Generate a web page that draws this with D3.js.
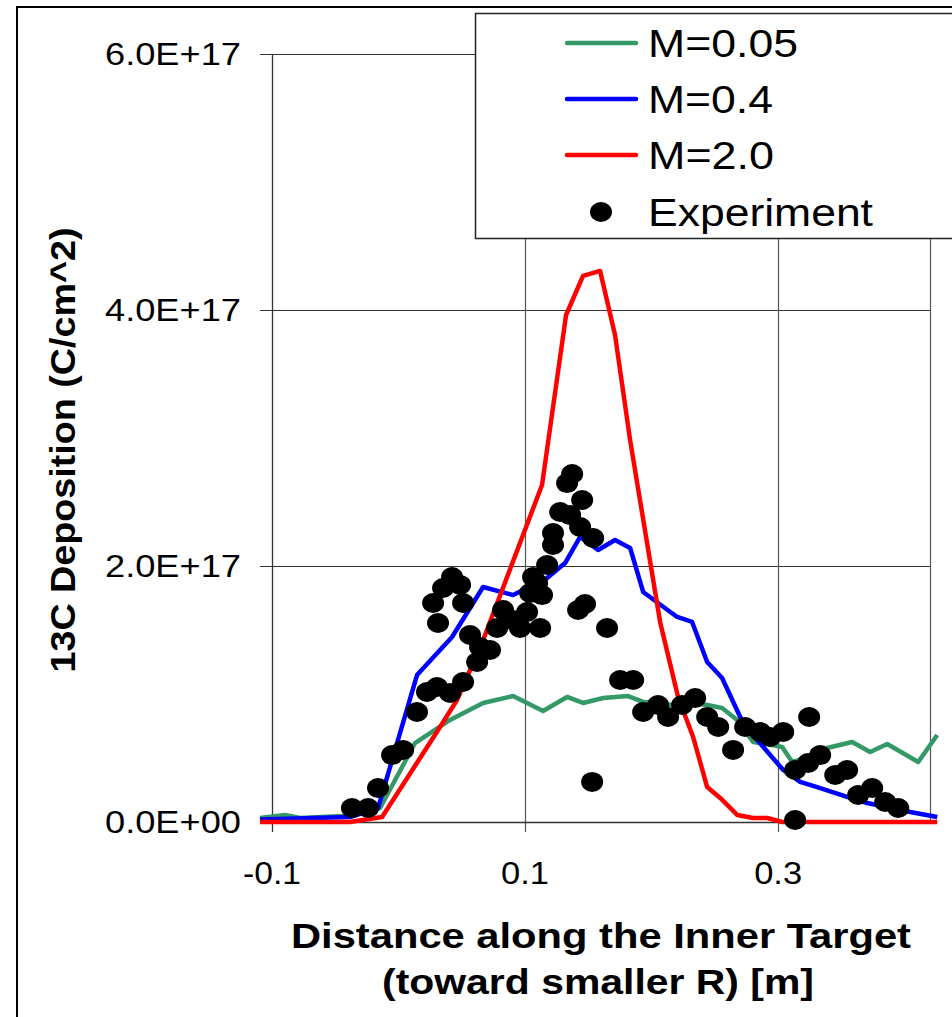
<!DOCTYPE html>
<html>
<head>
<meta charset="utf-8">
<script src="https://cdn.jsdelivr.net/npm/d3@7"></script>
<style>
  html, body { margin: 0; padding: 0; background: #fff; }
  svg { display: block; font-family: Arial, "Liberation Sans", Helvetica, sans-serif; }
</style>
</head>
<body>
<svg id="chart" width="952" height="1017"></svg>
<script>
// Distance along the inner target [m]
const m005X = [-0.1095, -0.0897, -0.0779, -0.0439, -0.0146, 0.0130, 0.0407, 0.0668, 0.0905, 0.1142, 0.1332, 0.1458, 0.1617, 0.1814, 0.1933, 0.2170, 0.2320, 0.2439, 0.2557, 0.2676, 0.2802, 0.2913, 0.3032, 0.3111, 0.3229, 0.3387, 0.3585, 0.3727, 0.3862, 0.4107, 0.4257];
// 13C deposition, units of 1e17 C/cm^2
const m005Y = [0.031, 0.055, 0.031, 0.047, 0.109, 0.617, 0.797, 0.930, 0.984, 0.867, 0.977, 0.930, 0.969, 0.984, 0.938, 0.914, 0.930, 0.914, 0.891, 0.797, 0.625, 0.609, 0.586, 0.469, 0.500, 0.578, 0.625, 0.547, 0.609, 0.469, 0.680];

const m04X = [-0.1095, -0.0383, -0.0162, 0.0146, 0.0423, 0.0668, 0.0905, 0.1174, 0.1316, 0.1435, 0.1577, 0.1711, 0.1830, 0.1933, 0.2202, 0.2320, 0.2439, 0.2557, 0.2700, 0.2834, 0.3040, 0.3174, 0.3308, 0.3569, 0.3704, 0.4043, 0.4257];
const m04Y = [0.020, 0.039, 0.109, 1.148, 1.445, 1.836, 1.773, 1.906, 2.023, 2.227, 2.125, 2.203, 2.141, 1.797, 1.602, 1.563, 1.250, 1.125, 0.820, 0.641, 0.406, 0.313, 0.273, 0.188, 0.148, 0.078, 0.039];

const m20X = [-0.1095, -0.0383, -0.0130, 0.0328, 0.0462, 0.0668, 0.1134, 0.1324, 0.1458, 0.1593, 0.1711, 0.1830, 0.2067, 0.2209, 0.2328, 0.2439, 0.2542, 0.2676, 0.2802, 0.2913, 0.3032, 0.4257];
const m20Y = [0.000, 0.000, 0.039, 0.742, 0.953, 1.420, 2.633, 3.961, 4.266, 4.305, 3.805, 2.984, 1.563, 0.977, 0.664, 0.273, 0.188, 0.055, 0.031, 0.031, 0.000, 0.000];

const expX = [-0.0368, -0.0241, -0.0162, -0.0051, 0.0036, 0.0146, 0.0225, 0.0304, 0.0407, 0.0510,
              0.0273, 0.0352, 0.0423, 0.0486, 0.0510, 0.0312, 0.0565, 0.0644, 0.0723, 0.0621,
              0.0779, 0.0826, 0.0905, 0.0960, 0.1119, 0.1016, 0.1040, 0.1095, 0.1063, 0.1134,
              0.1174, 0.1221, 0.1221, 0.1277, 0.1356, 0.1435, 0.1451, 0.1332, 0.1372, 0.1538,
              0.1419, 0.1474, 0.1648, 0.1530, 0.1751, 0.1854, 0.1933, 0.2051, 0.2130, 0.2241,
              0.2344, 0.2439, 0.2526, 0.2644, 0.2739, 0.2858, 0.2937, 0.3040, 0.3245, 0.3134,
              0.3237, 0.3332, 0.3451, 0.3545, 0.3632, 0.3743, 0.3846, 0.3949, 0.3134];
const expY = [0.109, 0.109, 0.266, 0.523, 0.563, 0.859, 1.016, 1.055, 1.008, 1.094,
              1.711, 1.828, 1.914, 1.852, 1.711, 1.555, 1.461, 1.367, 1.344, 1.250,
              1.516, 1.656, 1.578, 1.516, 1.516, 1.641, 1.789, 1.867, 1.914, 1.773,
              2.008, 2.164, 2.258, 2.422, 2.398, 2.305, 2.516, 2.648, 2.719, 2.219,
              1.656, 1.703, 1.516, 0.313, 1.109, 1.109, 0.859, 0.914, 0.820, 0.914,
              0.969, 0.820, 0.742, 0.563, 0.742, 0.703, 0.664, 0.703, 0.820, 0.406,
              0.461, 0.523, 0.367, 0.406, 0.211, 0.266, 0.156, 0.109, 0.016];

const seriesNames = ["M=0.05", "M=0.4", "M=2.0"];
const seriesColors = ["#339966", "#0000ff", "#ff0000"];
const expName = "Experiment";

const xTicks = [-0.1, 0.1, 0.3];
const xTickLabels = ["-0.1", "0.1", "0.3"];
const yTicks = [0, 2, 4, 6];
const yTickLabels = ["0.0E+00", "2.0E+17", "4.0E+17", "6.0E+17"];

const xTitle = ["Distance along the Inner Target", "(toward smaller R) [m]"];
const yTitle = "13C Deposition (C/cm^2)";

// ---- layout ----
const svg = d3.select("#chart");
const plot = { left: 272, right: 930, top: 54, bottom: 822 };
const x = d3.scaleLinear().domain([-0.1, 0.42]).range([plot.left, plot.right]);
const y = d3.scaleLinear().domain([0, 6]).range([plot.bottom, plot.top]);

// outer chart frame (runs off the right and bottom edges)
svg.append("rect")
  .attr("x", 17).attr("y", 7).attr("width", 980).attr("height", 1040)
  .attr("fill", "#fff").attr("stroke", "#000").attr("stroke-width", 2);

// horizontal gridlines with left tick marks
const gy = svg.append("g");
yTicks.forEach(v => {
  if (v === 0) return;
  gy.append("line")
    .attr("x1", plot.left - 12).attr("x2", plot.right)
    .attr("y1", Math.round(y(v)) + 0.5).attr("y2", Math.round(y(v)) + 0.5)
    .attr("stroke", "#333").attr("stroke-width", 1.2);
});
// vertical gridlines with bottom tick marks
xTicks.forEach(v => {
  if (v === -0.1) return;
  gy.append("line")
    .attr("x1", Math.round(x(v)) + 0.5).attr("x2", Math.round(x(v)) + 0.5)
    .attr("y1", plot.top).attr("y2", plot.bottom + 10)
    .attr("stroke", "#555").attr("stroke-width", 1.2);
});
// right edge of the plot area
gy.append("line")
  .attr("x1", plot.right + 0.5).attr("x2", plot.right + 0.5)
  .attr("y1", plot.top).attr("y2", plot.bottom)
  .attr("stroke", "#555").attr("stroke-width", 1.2);

// axes lines
gy.append("line")
  .attr("x1", plot.left + 0.5).attr("x2", plot.left + 0.5)
  .attr("y1", plot.top).attr("y2", plot.bottom + 10)
  .attr("stroke", "#333").attr("stroke-width", 1.3);
gy.append("line")
  .attr("x1", plot.left - 12).attr("x2", plot.right)
  .attr("y1", plot.bottom + 0.5).attr("y2", plot.bottom + 0.5)
  .attr("stroke", "#333").attr("stroke-width", 1.3);

// tick labels
svg.append("g").selectAll("text").data(yTicks).join("text")
  .attr("x", 241).attr("y", d => y(d) + 11)
  .attr("text-anchor", "end")
  .attr("font-size", 31)
  .attr("textLength", 136).attr("lengthAdjust", "spacingAndGlyphs")
  .text((d, i) => yTickLabels[i]);

const xTickWidths = [58, 48, 48];
svg.append("g").selectAll("text").data(xTicks).join("text")
  .attr("x", d => x(d)).attr("y", 884)
  .attr("text-anchor", "middle")
  .attr("font-size", 31)
  .attr("textLength", (d, i) => xTickWidths[i]).attr("lengthAdjust", "spacingAndGlyphs")
  .text((d, i) => xTickLabels[i]);

// axis titles
svg.append("text")
  .attr("text-anchor", "middle").attr("font-size", 35).attr("font-weight", "bold")
  .attr("x", 601).attr("y", 948)
  .attr("textLength", 620).attr("lengthAdjust", "spacingAndGlyphs")
  .text(xTitle[0]);
svg.append("text")
  .attr("text-anchor", "middle").attr("font-size", 35).attr("font-weight", "bold")
  .attr("x", 598).attr("y", 994)
  .attr("textLength", 432).attr("lengthAdjust", "spacingAndGlyphs")
  .text(xTitle[1]);

svg.append("text")
  .attr("transform", "translate(75,450) rotate(-90)")
  .attr("text-anchor", "middle").attr("font-size", 35).attr("font-weight", "bold")
  .attr("textLength", 445).attr("lengthAdjust", "spacingAndGlyphs")
  .text(yTitle);

// simulation curves
const line = d3.line().x(d => x(d[0])).y(d => y(d[1]));
const curves = [d3.zip(m005X, m005Y), d3.zip(m04X, m04Y), d3.zip(m20X, m20Y)];
svg.append("g").selectAll("path").data(curves).join("path")
  .attr("d", line)
  .attr("fill", "none")
  .attr("stroke", (d, i) => seriesColors[i])
  .attr("stroke-width", 4.5)
  .attr("stroke-linejoin", "round");

// experimental points
svg.append("g").selectAll("ellipse").data(d3.zip(expX, expY)).join("ellipse")
  .attr("cx", d => x(d[0])).attr("cy", d => y(d[1]))
  .attr("rx", 11).attr("ry", 10)
  .attr("fill", "#000");

// legend
const lg = svg.append("g");
lg.append("rect")
  .attr("x", 475.5).attr("y", 13.5).attr("width", 600).attr("height", 225)
  .attr("fill", "#fff").attr("stroke", "#222").attr("stroke-width", 1.5);
const rowY = [43, 99, 155, 212];
const legendWidths = [150, 125, 126, 225];
seriesNames.forEach((name, i) => {
  lg.append("line")
    .attr("x1", 567).attr("x2", 636).attr("y1", rowY[i]).attr("y2", rowY[i])
    .attr("stroke", seriesColors[i]).attr("stroke-width", 4.5).attr("stroke-linecap", "round");
  lg.append("text")
    .attr("x", 648).attr("y", rowY[i] + 14)
    .attr("font-size", 38)
    .attr("textLength", legendWidths[i]).attr("lengthAdjust", "spacingAndGlyphs")
    .text(name);
});
lg.append("ellipse")
  .attr("cx", 601).attr("cy", rowY[3]).attr("rx", 11).attr("ry", 10).attr("fill", "#000");
lg.append("text")
  .attr("x", 648).attr("y", rowY[3] + 14)
  .attr("font-size", 38)
  .attr("textLength", legendWidths[3]).attr("lengthAdjust", "spacingAndGlyphs")
  .text(expName);
</script>
</body>
</html>
